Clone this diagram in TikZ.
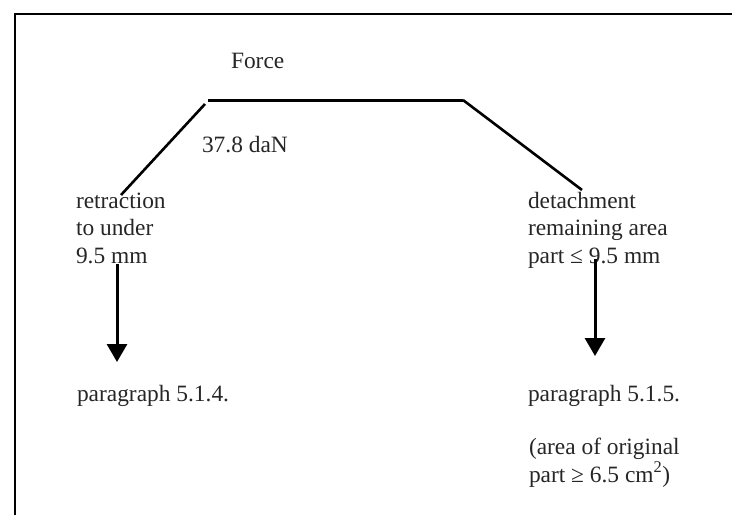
\documentclass[tikz,border=0pt]{standalone}
\usepackage{fontspec}
\setmainfont{Liberation Serif}
\usetikzlibrary{arrows.meta}
\begin{document}
\begin{tikzpicture}[x=1pt,y=-1pt,
  lbl/.style={inner sep=0pt,outer sep=0pt,anchor=base west,align=left,
    font=\fontsize{23.4}{27.5}\selectfont,text=black!85},
  frame/.style={line width=2pt,black},
  bar/.style={line width=2.6pt,black},
  down/.style={line width=3pt,black,-{Triangle[width=20pt,length=18pt]}}]
\useasboundingbox (0,0) rectangle (732,515);

% page frame: left and top rules only
\draw[frame] (15,515) -- (15,14) -- (732,14);

% force profile
\coordinate (pl) at (121,195);
\coordinate (pa) at (205,104);
\coordinate (pb) at (208,100);
\coordinate (pc) at (463,100);
\coordinate (pr) at (582,190);
\draw[bar] (pl) -- (pa);
\draw[bar,line width=3pt] (pb) -- (pc);
\draw[bar] (pc) -- (pr);

% labels (multi-line nodes sit on the baseline of their last line)
\node[lbl] (force) at (231,68) {Force};
\node[lbl] (val) at (202,152) {37.8 daN};
\node[lbl] (ret) at (76,263) {retraction\\to under\\9.5 mm};
\node[lbl] (det) at (528,263) {detachment\\remaining area\\part ≤ 9.5 mm};
\node[lbl] (p514) at (77,401) {paragraph 5.1.4.};
\node[lbl] (p515) at (528,401) {paragraph 5.1.5.};
\node[lbl] (note) at (529,482) {(area of original\\part ≥ 6.5 cm\textsuperscript{2})};

% outcome arrows
\coordinate (la) at (117,264);
\coordinate (lb) at (117,362);
\coordinate (ra) at (595,259);
\coordinate (rb) at (595,356);
\draw[down] (la) -- (lb);
\draw[down] (ra) -- (rb);
\end{tikzpicture}
\end{document}
